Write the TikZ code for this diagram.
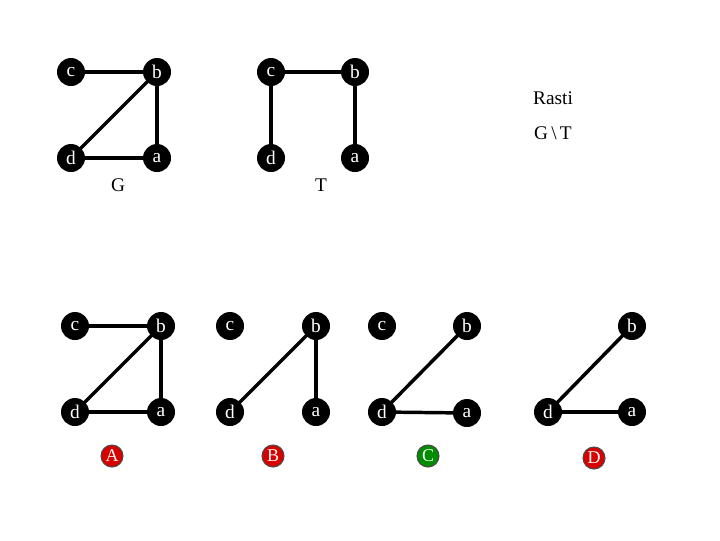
\documentclass[tikz,border=0pt]{standalone}
\usepackage{fontspec}
\setmainfont{Liberation Serif}
\usetikzlibrary{backgrounds}
\begin{document}
\begin{tikzpicture}[x=0.75pt,y=-0.75pt,
  vtx/.style={circle,fill=black,text=white,minimum size=21pt,inner sep=0pt,font=\fontsize{14.5}{16}\selectfont},
  edge/.style={line width=2.6pt},
  lab/.style={font=\fontsize{14.5}{16}\selectfont},
  badge/.style={circle,draw=black!70,line width=0.8pt,text=white,minimum size=16.5pt,inner sep=0pt,font=\fontsize{13.5}{15}\selectfont}]
\useasboundingbox (0,0) rectangle (720,540);
% G
\node[vtx] (Gc) at (71,72) {c};
\node[vtx] (Gb) at (157,72) {b};
\node[vtx] (Gd) at (71,158) {d};
\node[vtx] (Ga) at (157,158) {a};
\node[lab] (Glab) at (118,185) {G};
% T
\node[vtx] (Tc) at (271,72) {c};
\node[vtx] (Tb) at (355,72) {b};
\node[vtx] (Td) at (271,158) {d};
\node[vtx] (Ta) at (355,158) {a};
\node[lab] (Tlab) at (321,185) {T};
% Rasti
\node[lab] (rasti) at (553,98) {Rasti};
\node[lab] (GT) at (553,133) {G\,\textbackslash\,T};
% A
\node[vtx] (Ac) at (75,326) {c};
\node[vtx] (Ab) at (161,326) {b};
\node[vtx] (Ad) at (75,412) {d};
\node[vtx] (Aa) at (161,412) {a};
\node[badge,fill=red!85!black] (Alab) at (112,456) {A};
% B
\node[vtx] (Bc) at (230,326) {c};
\node[vtx] (Bb) at (316,326) {b};
\node[vtx] (Bd) at (230,412) {d};
\node[vtx] (Ba) at (316,412) {a};
\node[badge,fill=red!85!black] (Blab) at (273,456) {B};
% C
\node[vtx] (Cc) at (382,326) {c};
\node[vtx] (Cb) at (467,326) {b};
\node[vtx] (Cd) at (382,412) {d};
\node[vtx] (Ca) at (467,413) {a};
\node[badge,fill=green!55!black] (Clab) at (428,456) {C};
% D
\node[vtx] (Db) at (632,326) {b};
\node[vtx] (Dd) at (548,412) {d};
\node[vtx] (Da) at (632,412) {a};
\node[badge,fill=red!85!black] (Dlab) at (594,458) {D};
\begin{scope}[on background layer]
\draw[edge] (Gc.center) -- (Gb.center);
\draw[edge] (Gb.center) -- (Gd.center);
\draw[edge] (Gb.center) -- (Ga.center);
\draw[edge] (Gd.center) -- (Ga.center);
\draw[edge] (Tc.center) -- (Tb.center);
\draw[edge] (Tc.center) -- (Td.center);
\draw[edge] (Tb.center) -- (Ta.center);
\draw[edge] (Ac.center) -- (Ab.center);
\draw[edge] (Ab.center) -- (Ad.center);
\draw[edge] (Ab.center) -- (Aa.center);
\draw[edge] (Ad.center) -- (Aa.center);
\draw[edge] (Bd.center) -- (Bb.center);
\draw[edge] (Bb.center) -- (Ba.center);
\draw[edge] (Cd.center) -- (Cb.center);
\draw[edge] (Cd.center) -- (Ca.center);
\draw[edge] (Dd.center) -- (Db.center);
\draw[edge] (Dd.center) -- (Da.center);
\end{scope}
\end{tikzpicture}
\end{document}
